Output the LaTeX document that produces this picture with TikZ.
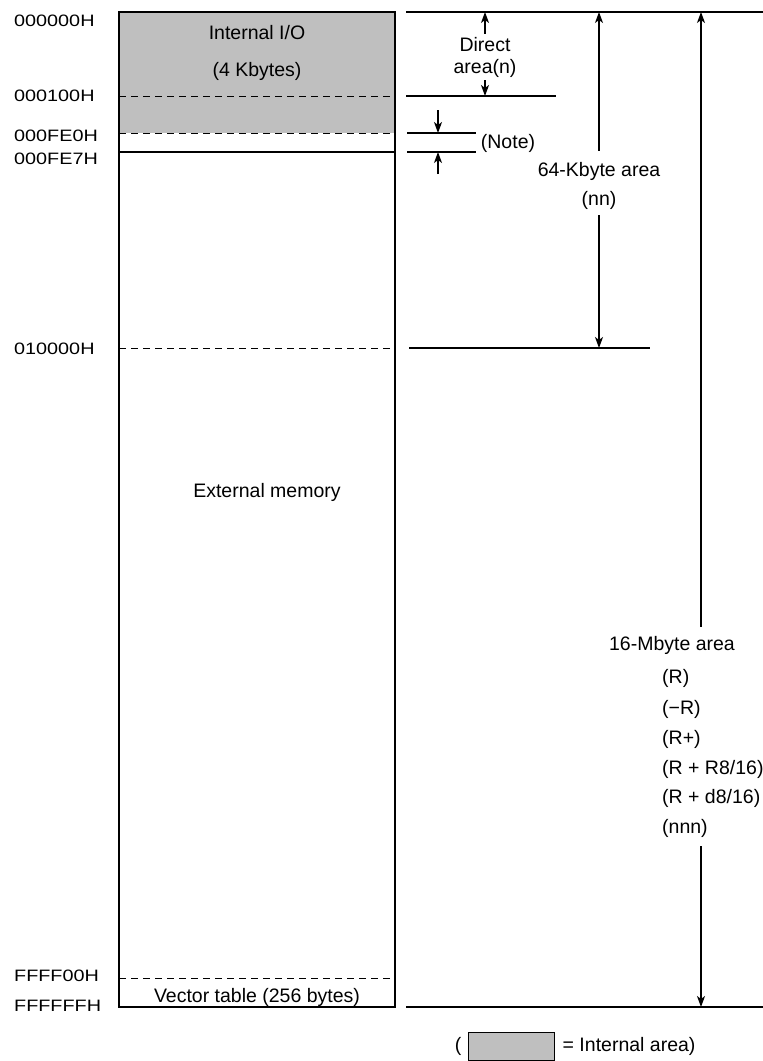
\documentclass[tikz,border=0pt]{standalone}
\usepackage{fontspec}
\setmainfont{Liberation Sans}
\newfontfamily\addrfont{Liberation Sans}[FakeStretch=1.2]
\usetikzlibrary{arrows.meta,positioning}

\begin{document}
\begin{tikzpicture}[x=1pt, y=-1pt,
  font=\fontsize{19.5}{22}\selectfont,
  addr/.style={anchor=west, inner sep=0pt, font=\addrfont\fontsize{16.5}{18}\selectfont},
  txt/.style={inner sep=0pt},
  mapline/.style={line width=1.3pt},
  divider/.style={line width=1pt, dash pattern=on 7pt off 5pt},
  dimarrow/.style={line width=1.1pt, -{Stealth[length=11pt, width=8pt, inset=3pt]}}]
  \useasboundingbox (0,0) rectangle (763,1061);
  % Internal I/O block -- grey
  \fill[black!25] (119,12) rectangle (395,133);
  % Memory map outline and boundaries
  \draw[mapline] (119,12) rectangle (395,1007);
  \draw[mapline] (119,152) -- (395,152);
  \draw[divider] (119,96) -- (395,96);
  \draw[divider] (119,133) -- (395,133);
  \draw[divider] (119,348) -- (395,348);
  \draw[divider] (119,978) -- (395,978);
  % Addresses on the left
  \node[addr] (a000000) at (14,21) {000000H};
  \node[addr] (a000100) at (14,96) {000100H};
  \node[addr] (a000fe0) at (14,136) {000FE0H};
  \node[addr] (a000fe7) at (14,159) {000FE7H};
  \node[addr] (a010000) at (14,349) {010000H};
  \node[addr] (affff00) at (14,976) {FFFF00H};
  \node[addr] (affffff) at (14,1006) {FFFFFFH};
  % Labels inside the map
  \node[txt] (intio) at (257,33) {Internal I/O};
  \node[txt] (intsize) at (257,71) {(4 Kbytes)};
  \node[txt] (extmem) at (267,492) {External memory};
  \node[txt] (vectab) at (257,997) {Vector table (256 bytes)};
  % Boundary lines on the right
  \coordinate (top) at (406,12);
  \coordinate (bot) at (406,1007);
  \coordinate (dirend) at (406,96);
  \coordinate (noteA) at (407,133);
  \coordinate (noteB) at (407,152);
  \coordinate (kbend) at (409,348);
  \draw[mapline] (top) -- (763,12);
  \draw[mapline] (dirend) -- (556,96);
  \draw[mapline] (noteA) -- (476,133);
  \draw[mapline] (noteB) -- (476,152);
  \draw[mapline] (kbend) -- (650,348);
  \draw[mapline] (bot) -- (763,1007);
  % Direct area
  \node[txt, align=center] (direct) at (485,57) {Direct\\area(n)};
  \draw[dimarrow] (direct.north) ++(0,-3) -- (direct.north |- top);
  \draw[dimarrow] (direct.south) ++(0,3) -- (direct.south |- dirend);
  % Note
  \node[txt] (note) at (508,143) {(Note)};
  \coordinate (noteup) at (438,110);
  \coordinate (notedn) at (438,174);
  \draw[dimarrow] (noteup) -- (noteup |- noteA);
  \draw[dimarrow] (notedn) -- (notedn |- noteB);
  % 64-Kbyte area
  \node[txt] (kb64) at (599,171) {64-Kbyte area};
  \node[txt] (kb64n) at (599,200) {(nn)};
  \draw[dimarrow] (kb64.north) ++(0,-11) -- (kb64.north |- top);
  \draw[dimarrow] (kb64n.south) ++(0,6) -- (kb64n.south |- kbend);
  % 16-Mbyte area
  \coordinate (mbx) at (701,12);
  \node[txt] (mb16) at (672,645) {16-Mbyte area};
  \node[txt, anchor=west] (mbr) at (662,678) {(R)};
  \node[txt, anchor=west] (mbmr) at (662,709) {(−R)};
  \node[txt, anchor=west] (mbrp) at (662,739) {(R+)};
  \node[txt, anchor=west] (mbr8) at (662,769) {(R + R8/16)};
  \node[txt, anchor=west] (mbd8) at (662,798) {(R + d8/16)};
  \node[txt, anchor=west] (mbnnn) at (662,828) {(nnn)};
  \draw[dimarrow] (mbx |- mb16.north) ++(0,-9) -- (mbx);
  \draw[dimarrow] (mbx |- mbnnn.south) ++(0,9) -- (mbx |- bot);
  % Key
  \node[draw, fill=black!25, line width=1pt, minimum width=86, minimum height=28, inner sep=0pt] (key) at (511,1046) {};
  \node[txt, left=6pt of key] (keyl) {(};
  \node[txt, right=8pt of key] (keyr) {= Internal area)};
\end{tikzpicture}
\end{document}
